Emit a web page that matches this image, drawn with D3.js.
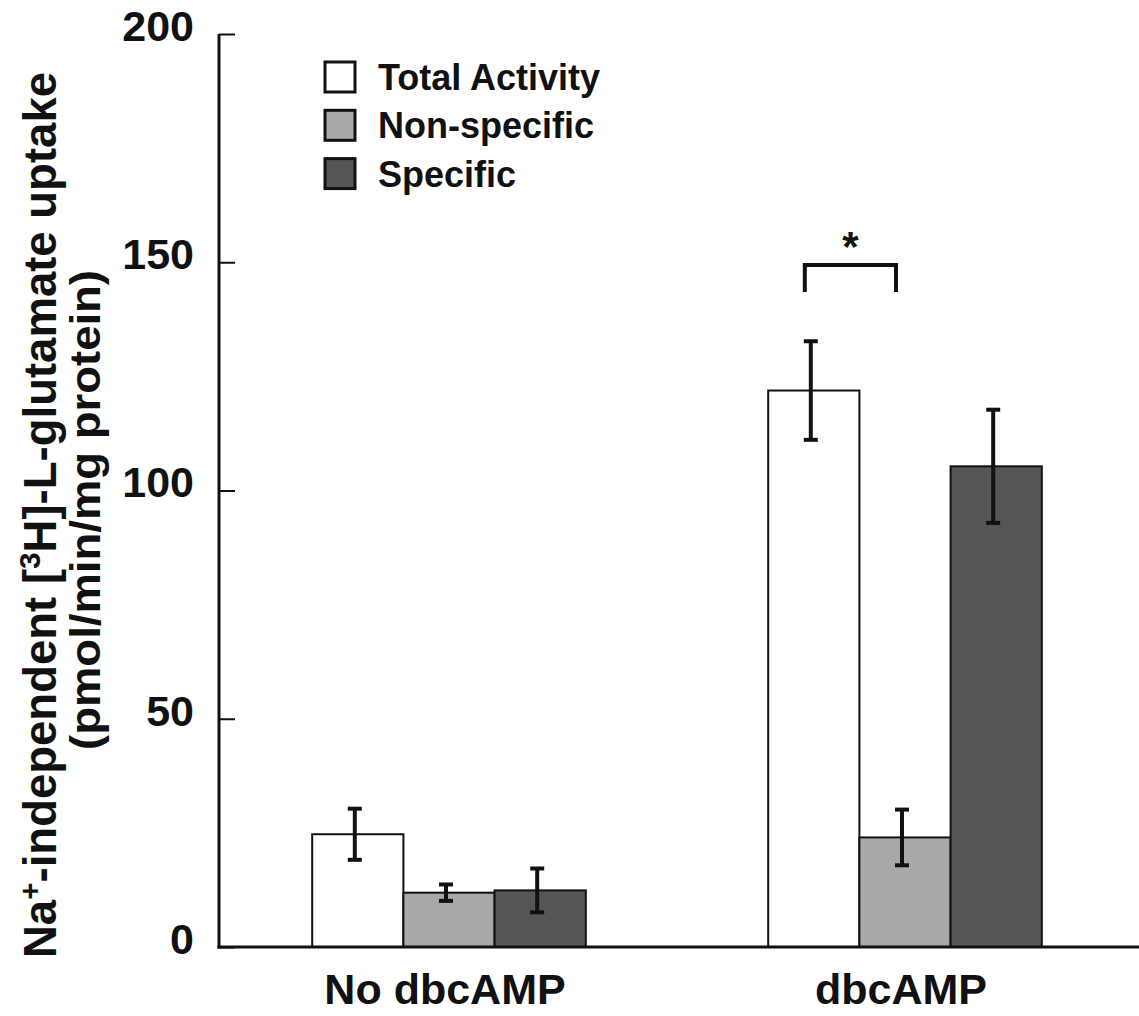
<!DOCTYPE html>
<html>
<head>
<meta charset="utf-8">
<script src="https://cdn.jsdelivr.net/npm/d3@7"></script>
<style>
  body { margin: 0; background: #fff; }
  svg text { font-family: "Liberation Sans", Arial, sans-serif; font-weight: bold; fill: #111; }
</style>
</head>
<body>
<svg class="chart"></svg>
<script>
const width = 1139;
const height = 1016;

// data
const groups = ['No dbcAMP', 'dbcAMP'];
const series = ['Total Activity', 'Non-specific', 'Specific'];
const colors = ['#ffffff', '#a8a8a8', '#555555'];
const means = [
    [24.7, 11.9, 12.4],
    [121.9, 24.0, 105.3]
];
const errors = [
    [5.6, 1.8, 4.8],
    [10.8, 6.1, 12.4]
];
const yTicks = [0, 50, 100, 150, 200];

const svg = d3.select('svg.chart')
    .attr('width', width)
    .attr('height', height);

const y = d3.scaleLinear()
    .domain([0, 200])
    .range([947, 34]);

const x0 = d3.scaleBand()
    .domain(groups)
    .range([221, 1133])
    .paddingInner(0.4)
    .paddingOuter(0.2);

const x1 = d3.scaleBand()
    .domain(series)
    .range([0, x0.bandwidth()]);

// bars
groups.forEach((g, gi) => {
    const grp = svg.append('g')
        .attr('transform', `translate(${x0(g)},0)`);

    grp.selectAll('rect')
        .data(series)
        .join('rect')
        .attr('x', s => x1(s))
        .attr('y', (s, i) => y(means[gi][i]))
        .attr('width', x1.bandwidth())
        .attr('height', (s, i) => y(0) - y(means[gi][i]))
        .attr('fill', (s, i) => colors[i])
        .attr('stroke', '#111')
        .attr('stroke-width', 2);

    // error bars
    series.forEach((s, i) => {
        const cx = x1(s) + x1.bandwidth() / 2 - 3;
        const hi = y(means[gi][i] + errors[gi][i]);
        const lo = y(means[gi][i] - errors[gi][i]);
        const eb = grp.append('g')
            .attr('stroke', '#111')
            .attr('stroke-width', 4);
        eb.append('line').attr('x1', cx).attr('x2', cx).attr('y1', hi).attr('y2', lo);
        eb.append('line').attr('x1', cx - 7).attr('x2', cx + 7).attr('y1', hi).attr('y2', hi);
        eb.append('line').attr('x1', cx - 7).attr('x2', cx + 7).attr('y1', lo).attr('y2', lo);
    });
});

// y axis
const yAxis = svg.append('g')
    .attr('transform', 'translate(219,0)')
    .call(d3.axisRight(y).tickValues(yTicks).tickSize(16).tickFormat(d3.format('d')));
yAxis.select('.domain').remove();
yAxis.selectAll('.tick line').attr('stroke', '#111').attr('stroke-width', 2);
yAxis.selectAll('.tick text')
    .attr('x', -25)
    .attr('dy', '0.15em')
    .attr('text-anchor', 'end')
    .style('font-size', '43px');

svg.append('line')
    .attr('x1', 219).attr('x2', 219)
    .attr('y1', y(200)).attr('y2', y(0) + 1.5)
    .attr('stroke', '#111').attr('stroke-width', 3);

// x axis line
svg.append('line')
    .attr('x1', 217.5).attr('x2', width)
    .attr('y1', y(0)).attr('y2', y(0))
    .attr('stroke', '#111').attr('stroke-width', 3);

// group labels
svg.selectAll('text.group-label')
    .data(groups)
    .join('text')
    .attr('class', 'group-label')
    .attr('x', d => x0(d) + x0.bandwidth() / 2 - 4)
    .attr('y', 1004)
    .attr('text-anchor', 'middle')
    .style('font-size', '43px')
    .text(d => d);

// y label
const yLabel = svg.append('text')
    .attr('transform', 'translate(56,515) rotate(-90)')
    .attr('text-anchor', 'middle')
    .attr('textLength', 886)
    .attr('lengthAdjust', 'spacingAndGlyphs')
    .style('font-size', '46px');
yLabel.append('tspan').text('Na');
yLabel.append('tspan').attr('baseline-shift', 'super').style('font-size', '30px').text('+');
yLabel.append('tspan').text('-independent [');
yLabel.append('tspan').attr('baseline-shift', 'super').style('font-size', '30px').text('3');
yLabel.append('tspan').text('H]-L-glutamate uptake');

svg.append('text')
    .attr('transform', 'translate(100,510) rotate(-90)')
    .attr('text-anchor', 'middle')
    .attr('textLength', 480)
    .attr('lengthAdjust', 'spacingAndGlyphs')
    .style('font-size', '42px')
    .text('(pmol/min/mg protein)');

// legend
const legend = svg.append('g')
    .attr('transform', 'translate(325,62)');
series.forEach((s, i) => {
    legend.append('rect')
        .attr('x', 0)
        .attr('y', i * 48.3)
        .attr('width', 30)
        .attr('height', 30)
        .attr('fill', colors[i])
        .attr('stroke', '#111')
        .attr('stroke-width', 3);
    legend.append('text')
        .attr('x', 53)
        .attr('y', i * 48.3 + 28)
        .style('font-size', '36px')
        .text(s);
});

// significance bracket between total and non-specific in dbcAMP
const bx1 = x0('dbcAMP') + x1('Total Activity') + x1.bandwidth() / 2 - 9;
const bx2 = x0('dbcAMP') + x1('Non-specific') + x1.bandwidth() / 2 - 9;
svg.append('path')
    .attr('d', `M${bx1},${y(143.5)}V${y(149.4)}H${bx2}V${y(143.5)}`)
    .attr('fill', 'none')
    .attr('stroke', '#111')
    .attr('stroke-width', 4);
svg.append('text')
    .attr('x', (bx1 + bx2) / 2)
    .attr('y', y(152) + 8)
    .attr('text-anchor', 'middle')
    .style('font-size', '42px')
    .text('*');
</script>
</body>
</html>
